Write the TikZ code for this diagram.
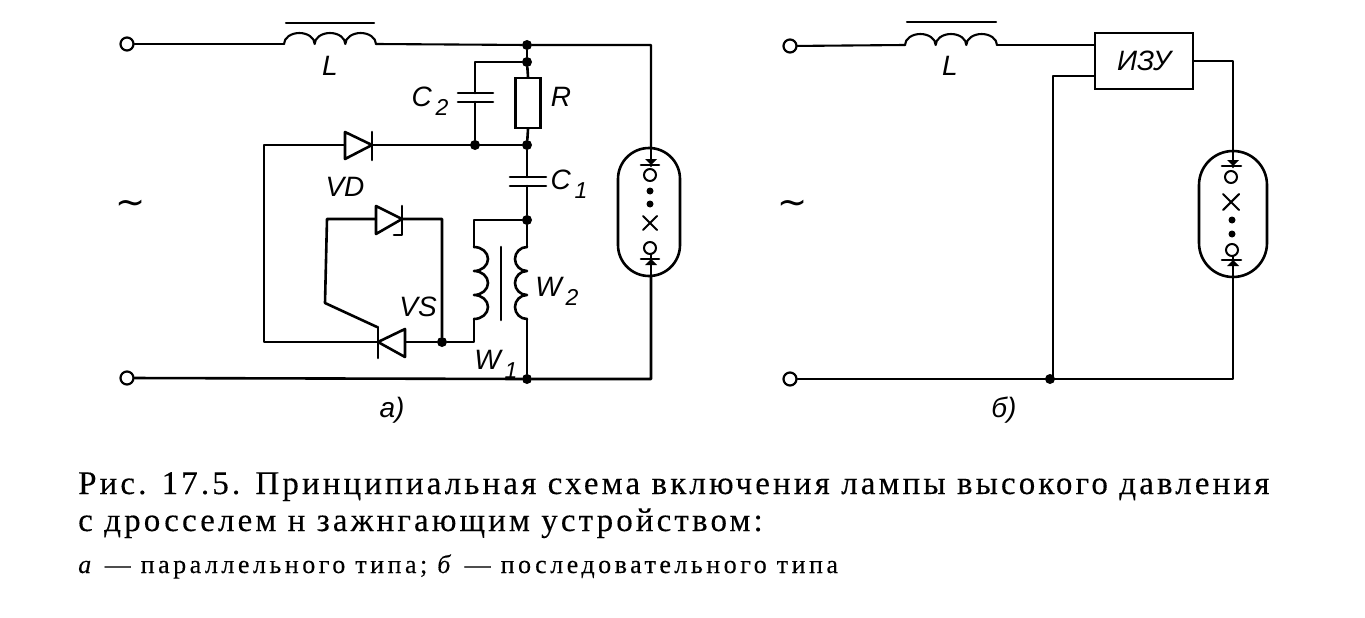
\documentclass[tikz,border=0pt]{standalone}
\usepackage{fontspec}
\setmainfont{Liberation Serif}
\newfontfamily\lab{Liberation Sans}
\newfontfamily\tildef{DejaVu Sans}
\tikzset{
 x=1pt,y=-1pt,
 wire/.style={line width=2.6pt,line join=round,line cap=round,black},
 fine/.style={line width=2.1pt,line join=round,line cap=round,black},
 dotn/.style={circle,fill=black,inner sep=0pt,minimum size=10pt},
 term/.style={circle,draw=black,line width=2.2pt,fill=white,inner sep=0pt,minimum size=13pt},
 smallc/.style={circle,draw=black,line width=2pt,fill=white,inner sep=0pt,minimum size=12pt},
 smalld/.style={circle,fill=black,inner sep=0pt,minimum size=7pt},
 lbl/.style={font=\lab\itshape\fontsize{28}{30}\selectfont,inner sep=0pt,text=black},
 tld/.style={font=\tildef\fontsize{36}{36}\selectfont,inner sep=0pt,text=black},
 capt/.style={anchor=base west,inner sep=0pt,font=\fontsize{33}{36}\selectfont\addfontfeatures{LetterSpace=9.5,FakeBold=0.25}},
 capts/.style={anchor=base west,inner sep=0pt,font=\fontsize{26}{28}\selectfont\addfontfeatures{LetterSpace=13.5,FakeBold=0.25}},
 box/.style={draw=black,line width=2.6pt,fill=white,inner sep=0pt},
}
\newcommand{\coilh}[2]{% x0 y : three bumps upward
 \draw[fine] (#1,#2) arc[start angle=180,end angle=360,x radius=15.33,y radius=11]
   arc[start angle=180,end angle=360,x radius=15.33,y radius=11]
   arc[start angle=180,end angle=360,x radius=15.33,y radius=11];}
\newcommand{\subs}[1]{\raisebox{-9pt}{\fontsize{23}{24}\selectfont\,#1}}
\begin{document}
\begin{tikzpicture}
\useasboundingbox (0,0) rectangle (1365,618);
\fill[white] (0,0) rectangle (1365,618);
% ---------- diagram a
\node[term] (t1) at (127,44) {};
\node[term] (t2) at (127,378) {};
\coordinate (la) at (284,44);
\coordinate (lb) at (376,44);
\draw[fine] (t1) -- (la);
\coilh{284}{44}
\draw[fine] (286,23) -- (374,23);
\node[dotn] (n1) at (527,45) {};
\node[dotn] (n2) at (527,62) {};
\node[dotn] (n3) at (475,145) {};
\node[dotn] (n4) at (527,145) {};
\node[dotn] (n5) at (527,220) {};
\node[dotn] (n6) at (442,342) {};
\node[dotn] (n7) at (527,379) {};
\draw[fine] (lb) -- (n1) -- (651,45) -- (651,148);
\draw[wire] (n1) -- (n2);
\draw[wire] (t2) -- (n7) -- (651,379) -- (651,276);
% C2 R
\draw[wire] (n2) -- (475,62) -- (475,93);
\draw[wire] (475,102) -- (n3);
\draw[wire] (458,93) -- (493,93);
\draw[wire] (458,102) -- (493,102);
\node[box,minimum width=25pt,minimum height=50pt] (R) at (528,103) {};
\draw[wire] (n2) -- (R.north);
\draw[wire] (R.south) -- (n4);
% C1
\draw[wire] (n4) -- (527,177);
\draw[wire] (527,186) -- (n5);
\draw[wire] (510,177) -- (546,177);
\draw[wire] (510,186) -- (546,186);
% VD line
\draw[wire] (n4) -- (264,145) -- (264,342) -- (n6);
\draw[wire,fill=white] (345,132) -- (372,145) -- (345,159) -- cycle;
\draw[wire] (372,132) -- (372,160);
% W2
\draw[wire] (n5) -- (527,247);
\draw[wire] (527,247) arc[start angle=270,end angle=90,x radius=12,y radius=12] arc[start angle=270,end angle=90,x radius=12,y radius=12] arc[start angle=270,end angle=90,x radius=12,y radius=12];
\draw[wire] (527,319) -- (n7);
% W1
\draw[wire] (n5) -- (474,220) -- (474,247);
\draw[wire] (474,247) arc[start angle=-90,end angle=90,x radius=14,y radius=12] arc[start angle=-90,end angle=90,x radius=14,y radius=12] arc[start angle=-90,end angle=90,x radius=14,y radius=12];
\draw[wire] (474,319) -- (474,342) -- (n6);
\draw[wire] (501,247) -- (501,320);
% inner loop
\draw[wire] (n6) -- (442,219) -- (327,219) -- (325,303) -- (377,327);
\draw[wire,fill=white] (376,206) -- (402,219) -- (376,234) -- cycle;
\draw[wire] (402,206) -- (402,235) -- (394,235);
\draw[wire,fill=white] (405,329) -- (378,342) -- (405,357) -- cycle;
\draw[wire] (378,327) -- (378,358);
% lamp a
\draw[wire] (618,179) arc[start angle=180,end angle=360,radius=31] -- (680,245) arc[start angle=0,end angle=180,radius=31] -- cycle;
\draw[wire] (651,148) -- (651,166);
\fill (645,159) -- (657,159) -- (651,165) -- cycle;
\draw[wire] (641,165) -- (659,165);
\node[smallc] (ca1) at (650,175) {};
\node[smalld] at (650,191) {};
\node[smalld] at (650,204) {};
\draw[fine] (643,216) -- (657,230) (657,216) -- (643,230);
\node[smallc] (ca2) at (650,248) {};
\draw[wire] (641,259) -- (659,259);
\draw[wire] (651,254) -- (651,276);
\fill (645,265) -- (657,265) -- (651,259) -- cycle;
% ---------- diagram b
\node[term] (t3) at (790,46) {};
\node[term] (t4) at (790,379) {};
\draw[fine] (t3) -- (905,45);
\coilh{905}{45}
\draw[fine] (907,22) -- (996,22);
\node[box,minimum width=98pt,minimum height=56pt] (izu) at (1144,61) {};
\node[dotn] (n8) at (1050,379) {};
\draw[fine] (997,45) -- (izu.west |- 0,45);
\draw[wire] (izu.west |- 0,76) -- (1053,76) -- (1053,379);
\draw[wire] (izu.east) -- (1233,61) -- (1233,151);
\draw[wire] (t4) -- (1233,379) -- (1233,277);
\draw[wire] (1199,185) arc[start angle=180,end angle=360,radius=34] -- (1267,243) arc[start angle=0,end angle=180,radius=34] -- cycle;
\draw[wire] (1233,151) -- (1233,167);
\fill (1227,160) -- (1239,160) -- (1233,166) -- cycle;
\draw[wire] (1222,166) -- (1241,166);
\node[smallc] (cb1) at (1231,177) {};
\draw[fine] (1223,194) -- (1239,210) (1239,194) -- (1223,210);
\node[smalld] at (1232,220) {};
\node[smalld] at (1232,234) {};
\node[smallc] (cb2) at (1232,250) {};
\draw[wire] (1222,260) -- (1241,260);
\fill (1227,266) -- (1239,266) -- (1233,260) -- cycle;
\draw[wire] (1233,256) -- (1233,277);
% ---------- labels
\node[lbl] at (330,66) {L};
\node[lbl] at (950,66) {L};
\node[lbl] at (430,101) {C\subs{2}};
\node[lbl] at (561,97) {R};
\node[lbl] at (569,184) {C\subs{1}};
\node[lbl] at (345,187) {VD};
\node[lbl] at (418,307) {VS};
\node[lbl] at (557,291) {W\subs{2}};
\node[lbl] at (496,364) {W\subs{1}};
\node[lbl] at (1144,61) {ИЗУ};
\node[lbl] at (392,410) {а)};
\node[lbl] at (1004,410) {б)};
\node[tld] at (131,207) {∼};
\node[tld] at (793,207) {∼};
% ---------- caption
\node[capt] at (78,494) {Рис. 17.5. Принципиальная схема включения лампы высокого давления};
\node[capt] at (78,531) {с дросселем н зажнгающим устройством:};
\node[capts] at (78,573) {\textit{а} — параллельного типа; \textit{б} — последовательного типа};
\end{tikzpicture}
\end{document}
